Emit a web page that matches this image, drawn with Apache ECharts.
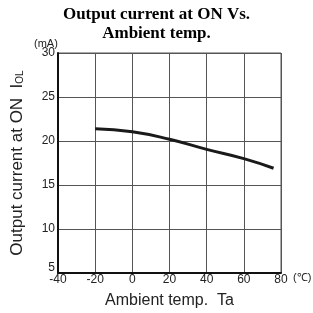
<!DOCTYPE html>
<html>
<head>
<meta charset="utf-8">
<script src="https://cdn.jsdelivr.net/npm/echarts@6/dist/echarts.min.js"></script>
<style>html,body{margin:0;padding:0;background:#fff;}#chart{width:313px;height:313px;}</style>
</head>
<body>
<div id="chart"></div>
<script>
// curve
var temps = [-20, 0, 20, 40, 60, 76];
var currents = [21.4, 21.05, 20.2, 19.05, 18.0, 16.9];

var xTicks = [-40, -20, 0, 20, 40, 60, 80];
var yTicks = [5, 10, 15, 20, 25, 30];

var data = temps.map(function (t, i) { return [t, currents[i]]; });

var myChart = echarts.init(document.getElementById('chart'));
myChart.setOption({
    animation: false,
    title: {
        text: 'Output current at ON Vs.\nAmbient temp.',
        left: 'center',
        top: 0,
        textStyle: {
            fontFamily: 'Liberation Serif',
            fontWeight: 'bold',
            fontSize: 17,
            lineHeight: 19,
            color: '#000'
        }
    },
    grid: {
        left: 58, right: 32, top: 53, bottom: 40,
        outerBoundsMode: 'none',
        show: true, borderColor: '#555', borderWidth: 1
    },
    xAxis: {
        type: 'value',
        min: xTicks[0], max: xTicks[xTicks.length - 1], interval: 20,
        name: 'Ambient temp.  Ta',
        nameLocation: 'middle',
        nameGap: 20,
        nameTextStyle: { fontFamily: 'Liberation Sans', fontSize: 16, color: '#222' },
        axisLine: { onZero: false, lineStyle: { color: '#111', width: 2 } },
        axisTick: { show: false },
        splitLine: { lineStyle: { color: '#555', width: 1 } },
        axisLabel: { fontFamily: 'Liberation Sans', fontSize: 12, color: '#222', margin: 1 }
    },
    yAxis: {
        type: 'value',
        min: yTicks[0], max: yTicks[yTicks.length - 1], interval: 5,
        name: 'Output current at ON  I{s|OL}',
        nameLocation: 'middle',
        nameGap: 32,
        nameTextStyle: {
            fontFamily: 'Liberation Sans', fontSize: 17, color: '#222',
            rich: { s: { fontFamily: 'Liberation Sans', fontSize: 10, color: '#222', padding: [6, 0, 0, 0] } }
        },
        axisLine: { show: true, onZero: false, lineStyle: { color: '#111', width: 2 } },
        axisTick: { show: false },
        splitLine: { lineStyle: { color: '#555', width: 1 } },
        axisLabel: {
            fontFamily: 'Liberation Sans', fontSize: 12, color: '#222', margin: 3,
            formatter: function (v) { return v === 5 ? '{low|5}' : String(v); },
            rich: { low: { fontFamily: 'Liberation Sans', fontSize: 12, color: '#222', padding: [0, 0, 10, 0] } }
        }
    },
    graphic: [
        { type: 'text', left: 34, top: 38,
          style: { text: '(mA)', fontFamily: 'Liberation Sans', fontSize: 11, fill: '#222' } },
        { type: 'text', left: 293, top: 272,
          style: { text: '(℃)', fontFamily: 'Liberation Sans', fontSize: 11, fill: '#222' } }
    ],
    series: [{
        type: 'line',
        data: data,
        smooth: true,
        showSymbol: false,
        lineStyle: { color: '#1a1a1a', width: 3 }
    }]
});
</script>
</body>
</html>
